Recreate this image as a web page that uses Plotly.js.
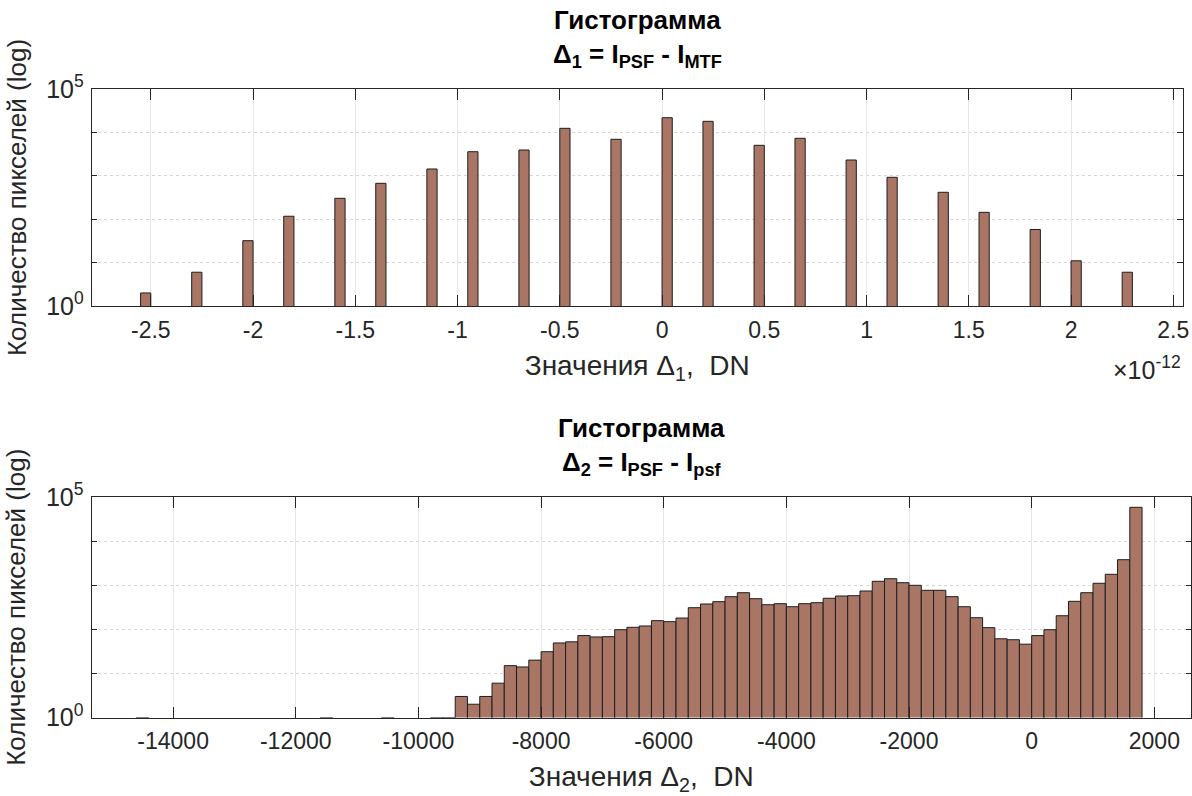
<!DOCTYPE html>
<html>
<head>
<meta charset="utf-8">
<script src="https://cdn.plot.ly/plotly-3.0.1.min.js"></script>
<style>
html,body{margin:0;padding:0;background:#ffffff;}
#chart{width:1192px;height:796px;}
</style>
</head>
<body>
<div id="chart"></div>
<script>
// ---------- Data: top histogram, Δ1 = I_PSF - I_MTF (x in units of 1e-12 DN) ----------
const delta1BinLeft = [-2.55, -2.30, -2.05, -1.85, -1.60, -1.40, -1.15, -0.95, -0.70, -0.50, -0.25,
                        0.00, 0.20, 0.45, 0.65, 0.90, 1.10, 1.35, 1.55, 1.80, 2.00, 2.25];
const delta1Counts = [2, 6, 32, 117, 303, 671, 1435, 3590, 3930, 12420, 6930,
                      21800, 18000, 5040, 7310, 2312, 923, 417, 144, 58, 11, 6];
const delta1BinWidth = 0.05;
const delta1TickValues = [-2.5, -2, -1.5, -1, -0.5, 0, 0.5, 1, 1.5, 2, 2.5];
const delta1TickLabels = ['-2.5', '-2', '-1.5', '-1', '-0.5', '0', '0.5', '1', '1.5', '2', '2.5'];

// ---------- Data: bottom histogram, Δ2 = I_PSF - I_psf (DN) ----------
const delta2BinLeft = [-14600, -11600, -10600, -9800, -9600,
  -9400, -9200, -9000, -8800, -8600, -8400, -8200, -8000, -7800, -7600,
  -7400, -7200, -7000, -6800, -6600, -6400, -6200, -6000, -5800, -5600,
  -5400, -5200, -5000, -4800, -4600, -4400, -4200, -4000, -3800, -3600,
  -3400, -3200, -3000, -2800, -2600, -2400, -2200, -2000, -1800, -1600,
  -1400, -1200, -1000, -800, -600, -400, -200, 0, 200, 400,
  600, 800, 1000, 1200, 1400, 1600];
const delta2Counts = [1, 1, 1, 1, 1,
  3, 2, 3, 6, 15, 14, 20, 31, 49, 52,
  72, 67, 68, 98, 111, 119, 157, 149, 180, 309,
  375, 423, 549, 676, 494, 361, 381, 325, 381, 401,
  505, 569, 578, 739, 1225, 1404, 1140, 995, 766, 766,
  549, 325, 183, 109, 61, 58, 46, 72, 98, 203,
  431, 676, 1105, 1767, 3787, 58400];
const delta2BinWidth = 200;
const delta2TickValues = [-14000, -12000, -10000, -8000, -6000, -4000, -2000, 0, 2000];
const delta2TickLabels = ['-14000', '-12000', '-10000', '-8000', '-6000', '-4000', '-2000', '0', '2000'];

const logTickValues = [1, 100000];
const logTickLabels = ['10<sup>0</sup>', '10<sup>5</sup>'];
const logMinorValues = [10, 100, 1000, 10000];

// ---------- Styling ----------
const W = 1192, H = 796;
const FONT = '"Liberation Sans", Arial, Helvetica, sans-serif';
const barFill = '#A97565';
const edge = '#1e1e1e';
const axisCol = '#262626';
const NB = '\u00a0';

// axes boxes (pixels)
const top1 = {l: 91.7, r: 1182.7, t: 89, b: 306};
const box2 = {l: 91.5, r: 1191, t: 497, b: 717.5};

function xdom(b){ return [b.l / W, b.r / W]; }
function ydom(b){ return [1 - b.b / H, 1 - b.t / H]; }

const traces = [
  {
    type: 'bar', x: delta1BinLeft, y: delta1Counts, width: delta1BinWidth, offset: 0,
    marker: {color: barFill, line: {color: edge, width: 1}},
    xaxis: 'x', yaxis: 'y', hoverinfo: 'x+y'
  },
  {
    type: 'bar', x: delta2BinLeft, y: delta2Counts, width: delta2BinWidth, offset: 0,
    marker: {color: barFill, line: {color: edge, width: 1}},
    xaxis: 'x2', yaxis: 'y2', hoverinfo: 'x+y'
  }
];

function xAxis(box, range, vals, labels, titleText){
  return {
    domain: xdom(box), range: range, anchor: box === top1 ? 'y' : 'y2',
    tickmode: 'array', tickvals: vals, ticktext: labels,
    ticks: 'inside', ticklen: 11, tickwidth: 1, tickcolor: axisCol,
    showline: true, linecolor: axisCol, linewidth: 1, mirror: 'ticks',
    showgrid: true, gridcolor: '#e6e6e6', gridwidth: 1, zeroline: false,
    ticklabelstandoff: 3,
    tickfont: {family: FONT, size: 23, color: axisCol},
    title: {text: titleText, font: {family: FONT, size: 28, color: axisCol}, standoff: 13},
    automargin: false, fixedrange: true
  };
}
function yAxis(box){
  return {
    domain: ydom(box), type: 'log', range: [0, 5], anchor: box === top1 ? 'x' : 'x2',
    tickmode: 'array', tickvals: logTickValues, ticktext: logTickLabels,
    ticks: 'inside', ticklen: 11, tickwidth: 1, tickcolor: axisCol,
    showline: true, linecolor: axisCol, linewidth: 1, mirror: 'ticks',
    showgrid: false, zeroline: false,
    minor: {tickmode: 'array', tickvals: logMinorValues, ticks: 'inside', ticklen: 5.5,
            tickcolor: axisCol, showgrid: true, gridcolor: '#d6d6d6', griddash: 'dot', gridwidth: 1},
    ticklabelstandoff: 2,
    tickfont: {family: FONT, size: 25, color: axisCol},
    title: {text: 'Количество пикселей (log)', font: {family: FONT, size: 26, color: axisCol}, standoff: 12},
    automargin: false, fixedrange: true
  };
}

const layout = {
  width: W, height: H,
  margin: {l: 0, r: 0, t: 0, b: 0, pad: 0},
  paper_bgcolor: '#ffffff', plot_bgcolor: '#ffffff',
  showlegend: false, bargap: 0,
  font: {family: FONT, size: 22, color: axisCol},
  xaxis: xAxis(top1, [-2.789, 2.546], delta1TickValues, delta1TickLabels,
               'Значения Δ<sub>1</sub>,' + NB + ' DN' + NB + NB + NB + NB + NB),
  yaxis: yAxis(top1),
  xaxis2: xAxis(box2, [-15331, 2598], delta2TickValues, delta2TickLabels,
               'Значения Δ<sub>2</sub>,' + NB + ' DN' + NB + NB + NB + NB + NB),
  yaxis2: yAxis(box2),
  annotations: [
    {
      text: '<b>Гистограмма</b><br><b>Δ<sub>1</sub> = I<sub>PSF</sub> - I<sub>MTF</sub></b>',
      xref: 'paper', yref: 'paper', x: (top1.l + top1.r) / 2 / W, y: 1 - top1.t / H,
      xanchor: 'center', yanchor: 'bottom', yshift: 15, showarrow: false,
      font: {family: FONT, size: 26, color: '#000000'}
    },
    {
      text: '<b>Гистограмма</b><br><b>Δ<sub>2</sub> = I<sub>PSF</sub> - I<sub>psf</sub></b>',
      xref: 'paper', yref: 'paper', x: (box2.l + box2.r) / 2 / W, y: 1 - box2.t / H,
      xanchor: 'center', yanchor: 'bottom', yshift: 15, showarrow: false,
      font: {family: FONT, size: 26, color: '#000000'}
    },
    {
      text: '×10<sup>-12</sup>',
      xref: 'paper', yref: 'paper', x: top1.r / W, y: 1 - 368 / H,
      xanchor: 'right', yanchor: 'middle', showarrow: false,
      font: {family: FONT, size: 25, color: axisCol}
    }
  ]
};

Plotly.newPlot('chart', traces, layout, {staticPlot: true, displayModeBar: false});
</script>
</body>
</html>
